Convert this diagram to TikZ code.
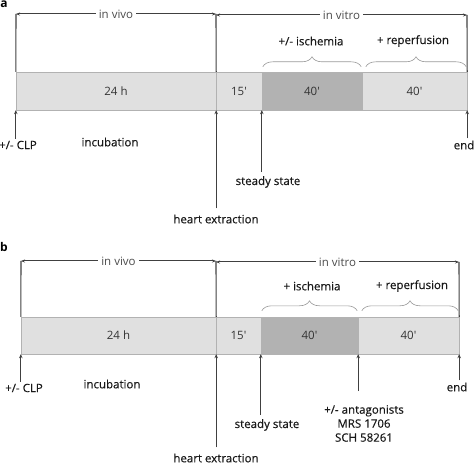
\documentclass[tikz,border=0pt]{standalone}
\usepackage{fontspec}
\setmainfont{Open Sans}
\newfontfamily\notefont{Open Sans}[FakeBold=0.35]
\usetikzlibrary{positioning, arrows.meta, decorations.pathreplacing, calc}

\begin{document}
\begin{tikzpicture}[
    x=1pt, y=-1pt,
    font=\fontsize{11.5}{14}\selectfont,
    seg/.style={rectangle, draw=black!30, fill=black!12, minimum height=38pt, inner sep=0pt, text=black!80},
    darkseg/.style={seg, fill=black!30},
    arrow/.style={-{Stealth[length=4pt, width=3.5pt]}, line width=1.3pt, draw=black!75},
    dimline/.style={{Stealth[length=4pt, width=3pt]}-{Stealth[length=4pt, width=3pt]}, line width=1pt, draw=black!75},
    guide/.style={line width=1.1pt, draw=black!75},
    curly/.style={decorate, decoration={brace, amplitude=10pt}, draw=black!40, line width=0.6pt},
    note/.style={text=black!90, inner sep=2pt, font=\fontsize{11.5}{14}\notefont},
    span/.style={fill=white, text=black!70, inner sep=3pt},
    panel/.style={font=\fontsize{12}{14}\selectfont\bfseries, inner sep=0pt}
]
\useasboundingbox (0,0) rectangle (474,465);

% panel a
\node[panel] (pa) at (4,4.5) {a};
\node[seg, minimum width=200pt] (a1) at (116,91) {24 h};
\node[seg, minimum width=46pt] (a2) at (239,91) {15\textquotesingle};
\node[darkseg, minimum width=100pt] (a3) at (312,91) {40\textquotesingle};
\node[seg, minimum width=105pt] (a4) at (414.5,91) {40\textquotesingle};

\coordinate (av1) at (16,14);
\coordinate (av2) at (216,14);
\coordinate (at1) at (216,15);
\coordinate (at2) at (467,15);
\draw[guide] (a1.north west) -- (av1);
\draw[guide] (a1.north east) -- (av2);
\draw[guide] (a4.north east) -- (at2);
\draw[dimline] (av1) -- node[span] {in vivo} (av2);
\draw[dimline] (at1) -- node[span] {in vitro} (at2);

\draw[curly] ([shift={(1,-5)}]a3.north west) -- ([shift={(-1,-5)}]a3.north east);
\draw[curly] ([shift={(4,-5)}]a4.north west) -- ([shift={(-1,-5)}]a4.north east);
\node[note] (isa) at (311,41) {+/- ischemia};
\node[note] (rpa) at (413,41) {+ reperfusion};

\node[note] (clpa) at (18,145) {+/- CLP};
\node[note] (inca) at (110,142) {incubation};
\node[note] (hea) at (216,219) {heart extraction};
\node[note] (ssa) at (268,182) {steady state};
\node[note] (enda) at (464,145) {end};
\draw[arrow] (clpa.north -| a1.south west) -- (a1.south west);
\draw[arrow] ([yshift=4pt]hea.north -| a1.south east) -- (a1.south east);
\draw[arrow] ([yshift=2pt]ssa.north -| a3.south west) -- (a3.south west);
\draw[arrow] (enda.north -| a4.south east) -- (a4.south east);

% panel b
\node[panel] (pb) at (4,247) {b};
\node[seg, minimum width=195pt, minimum height=37pt] (b1) at (118.5,335.5) {24 h};
\node[seg, minimum width=45pt, minimum height=37pt] (b2) at (238.5,335.5) {15\textquotesingle};
\node[darkseg, minimum width=97pt, minimum height=37pt] (b3) at (309.5,335.5) {40\textquotesingle};
\node[seg, minimum width=101pt, minimum height=37pt] (b4) at (408.5,335.5) {40\textquotesingle};

\coordinate (bv1) at (21,261);
\coordinate (bv2) at (216,261);
\coordinate (bt1) at (216,262);
\coordinate (bt2) at (459,262);
\draw[guide] (b1.north west) -- (bv1);
\draw[guide] (b1.north east) -- (bv2);
\draw[guide] (b4.north east) -- (bt2);
\draw[dimline] (bv1) -- node[span] {in vivo} (bv2);
\draw[dimline] (bt1) -- node[span] {in vitro} (bt2);

\draw[curly] ([shift={(1,-6)}]b3.north west) -- ([shift={(-1,-6)}]b3.north east);
\draw[curly] ([shift={(4,-6)}]b4.north west) -- ([shift={(-1,-6)}]b4.north east);
\node[note] (isb) at (312,286) {+ ischemia};
\node[note] (rpb) at (412,286) {+ reperfusion};

\node[note] (clpb) at (24,388) {+/- CLP};
\node[note] (incb) at (112,384) {incubation};
\node[note] (heb) at (216,458) {heart extraction};
\node[note] (ssb) at (267,425) {steady state};
\node[note, align=center] (antb) at (364,423.5) {+/- antagonists\\MRS 1706\\SCH 58261};
\node[note] (endb) at (457,387) {end};
\draw[arrow] (clpb.north -| b1.south west) -- (b1.south west);
\draw[arrow] ([yshift=4pt]heb.north -| b1.south east) -- (b1.south east);
\draw[arrow] ([yshift=2pt]ssb.north -| b3.south west) -- (b3.south west);
\draw[arrow] ([yshift=12pt]antb.north -| b3.south east) -- (b3.south east);
\draw[arrow] (endb.north -| b4.south east) -- (b4.south east);

\end{tikzpicture}
\end{document}
